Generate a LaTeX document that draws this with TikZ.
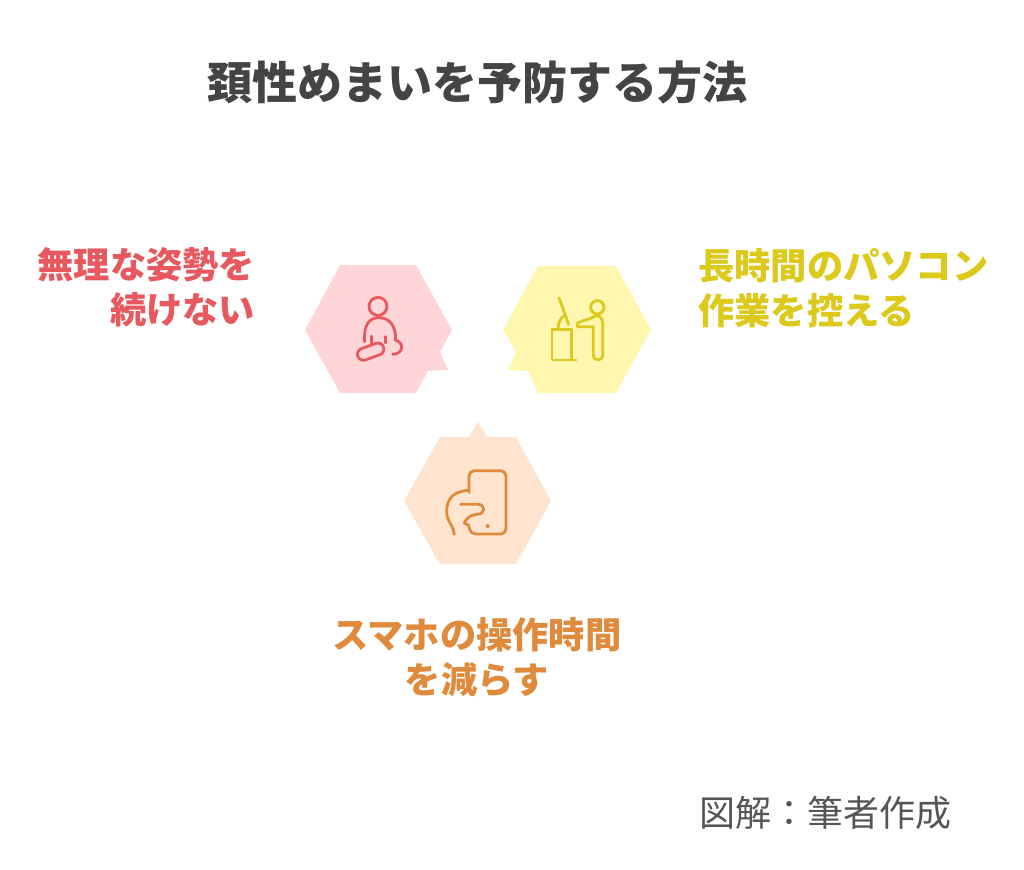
\documentclass[tikz,border=0pt]{standalone}
\usepackage{fontspec}
\newfontfamily\jpr{Noto Sans CJK JP}
\definecolor{titlec}{HTML}{444444}
\definecolor{creditc}{HTML}{555555}
\definecolor{redt}{HTML}{E8595F}
\definecolor{yelt}{HTML}{DDC91B}
\definecolor{orat}{HTML}{E08A3C}
\definecolor{redf}{HTML}{FFD6D8}
\definecolor{yelf}{HTML}{FFF7B0}
\definecolor{oraf}{HTML}{FFE4CF}
\definecolor{redi}{HTML}{E8595F}
\definecolor{yeli}{HTML}{DCC81E}
\definecolor{orai}{HTML}{E08A3C}
\tikzset{
  titletext/.style={font=\jpr\bfseries\fontsize{33.75pt}{40pt}\selectfont,text=titlec,inner sep=0pt,anchor=center},
  labeltext/.style={font=\jpr\bfseries\fontsize{27.2pt}{33.4pt}\selectfont,inner sep=0pt,align=#1},
  credittext/.style={font=\jpr\fontsize{27pt}{30pt}\selectfont,text=creditc,inner sep=0pt},
  iconline/.style={line width=2.1pt,line cap=round,line join=round,draw=#1},
  zoomA/.style={shift={(295,255)},x=0.25pt,y=-0.25pt},
  zoomB/.style={shift={(490,255)},x=0.25pt,y=-0.25pt},
  zoomC/.style={shift={(395,415)},x=0.25pt,y=-0.25pt}
}
\begin{document}
\begin{tikzpicture}[x=0.75pt,y=-0.75pt]
\useasboundingbox[fill=white] (0,0) rectangle (1024,870);
% title
\node[titletext] (title) at (477,82) {頚性めまいを予防する方法};
% hexagons
\fill[redf] (305,330) -- (340,265) -- (416,265) -- (452,330) -- (440,352) -- (448,370) -- (428,371) -- (416,393) -- (340,393) -- cycle;
\fill[yelf] (503,330) -- (538,266) -- (616,266) -- (651,330) -- (616,393) -- (538,393) -- (528,371) -- (508,370) -- (516,352) -- cycle;
\fill[oraf] (404,501) -- (440,437) -- (469,437) -- (478,422) -- (487,437) -- (516,437) -- (551,501) -- (516,564) -- (440,564) -- cycle;
% icon 1: seated person
\begin{scope}[zoomA,iconline=redi]
  \draw (249,154) circle [radius=27];
  \draw (209,260) .. controls (205,210) and (222,188) .. (252,188) .. controls (285,188) and (303,215) .. (302,255);
  \draw (230,243) -- (230,265);
  \draw (272,245) -- (272,264);
  \draw[rounded corners=4.5pt,rotate around={20:(227,290)}] (186,272) rectangle (268,308);
  \draw (300,255) .. controls (330,262) and (325,298) .. (293,298);
\end{scope}
% icon 2: person at desk
\begin{scope}[zoomB,iconline=yeli]
  \draw (322,157) circle [radius=20];
  \draw (207,128) -- (236,208);
  \draw (222,182) .. controls (212,190) and (205,200) .. (204,220);
  \draw (186,224) -- (245,224) -- (245,315);
  \draw (186,224) -- (186,315) -- (258,315);
  \draw (262,205) .. controls (275,195) and (300,195) .. (315,183) .. controls (330,180) and (338,190) .. (338,205) -- (338,300) .. controls (338,320) and (310,320) .. (310,300) -- (310,215) -- (262,215) -- cycle;
\end{scope}
% icon 3: hand with phone
\begin{scope}[zoomC,iconline=orai]
  \draw[rounded corners=4pt] (222,232) -- (222,167) -- (333,167) -- (333,357) -- (226,357) -- (222,335);
  \draw (222,225) .. controls (180,230) and (155,245) .. (155,290) .. controls (155,320) and (178,335) .. (178,358);
  \draw (197,268) -- (250,268) .. controls (272,270) and (272,298) .. (245,298) .. controls (225,300) and (215,310) .. (208,324) -- (222,332);
  \fill[orai,draw=none] (278,333) circle [radius=6];
\end{scope}
% labels
\node[labeltext=right,text=redt,anchor=east] (lab1) at (255.5,287) {無理な姿勢を\\続けない};
\node[labeltext=left,text=yelt,anchor=west] (lab2) at (698,288) {長時間のパソコン\\作業を控える};
\node[labeltext=center,text=orat] (lab3) at (477,657) {スマホの操作時間\\を減らす};
\node[credittext] (credit) at (825,813) {図解：筆者作成};
\end{tikzpicture}
\end{document}
